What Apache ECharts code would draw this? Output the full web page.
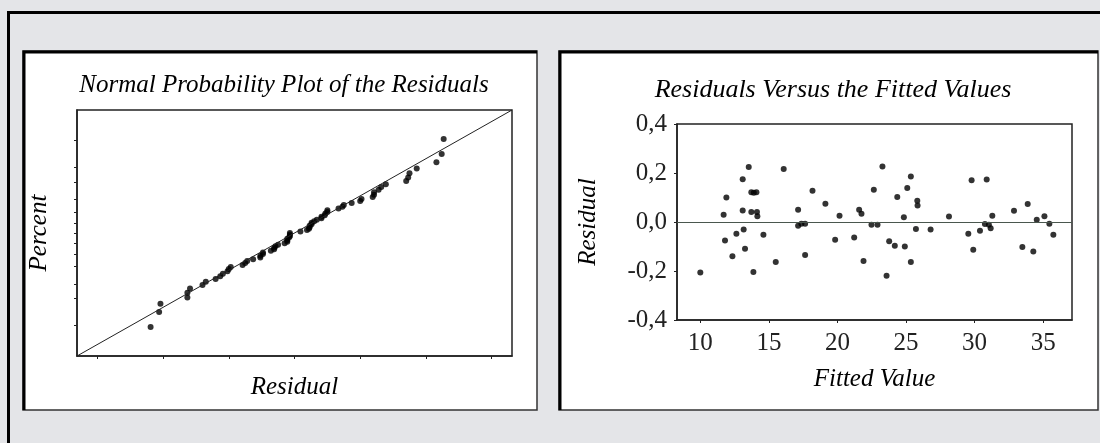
<!DOCTYPE html>
<html><head><meta charset="utf-8">
<script src="https://cdn.jsdelivr.net/npm/echarts@6/dist/echarts.min.js"></script>
<style>html,body{margin:0;padding:0;background:#e4e5e8}#c{width:1100px;height:443px}</style>
</head><body><div id="c"></div>
<script>
// ---- data ----
const fittedValues = [10.0, 11.7, 11.9, 11.8, 12.34, 12.63, 13.09, 13.09, 13.16, 13.26, 13.53, 13.72, 14.09, 13.9, 13.72, 14.13, 14.16, 13.87, 14.6, 15.5, 16.08, 17.13, 17.13, 17.37, 17.64, 17.64, 18.18, 19.12, 19.83, 20.15, 21.22, 21.58, 21.75, 21.9, 22.48, 22.65, 22.92, 23.28, 23.58, 23.77, 24.18, 24.36, 24.84, 24.91, 25.09, 25.35, 25.35, 25.72, 25.82, 25.84, 26.79, 28.13, 29.54, 29.78, 29.9, 30.39, 30.75, 30.88, 31.04, 31.17, 31.29, 32.87, 33.48, 33.87, 34.28, 34.53, 35.09, 35.45, 35.74];
const residuals = [-0.206, 0.03, 0.1, -0.075, -0.14, -0.048, 0.175, 0.047, -0.031, -0.109, 0.224, 0.121, 0.121, 0.119, 0.041, 0.041, 0.023, -0.204, -0.052, -0.163, 0.216, 0.05, -0.015, -0.007, -0.007, -0.135, 0.128, 0.075, -0.072, 0.026, -0.063, 0.05, 0.034, -0.159, -0.011, 0.132, -0.011, 0.227, -0.219, -0.079, -0.097, 0.102, 0.019, -0.1, 0.139, 0.186, -0.163, -0.029, 0.087, 0.067, -0.031, 0.022, -0.048, 0.17, -0.113, -0.036, -0.008, 0.173, -0.011, -0.025, 0.026, 0.046, -0.102, 0.073, -0.12, 0.009, 0.023, -0.007, -0.052];

const percentTicks = [1, 5, 10, 20, 30, 40, 50, 60, 70, 80, 90, 95, 99];
const percentTickZ = [-2.326, -1.645, -1.282, -0.842, -0.524, -0.253, 0, 0.253, 0.524, 0.842, 1.282, 1.645, 2.326];
const percentRangeZ = [-3.09, 3.09];           // 0.1 % .. 99.9 %
const residualRange = [-0.331, 0.331];          // x range of the probability plot
const residualTicks = [-0.3, -0.2, -0.1, 0, 0.1, 0.2, 0.3];
const fittedRange = [8.3, 37.1];
const fittedTicks = [10, 15, 20, 25, 30, 35];
const residualAxis = {min: -0.4, max: 0.4, interval: 0.2};

const titles = ['Normal Probability Plot of the Residuals', 'Residuals Versus the Fitted Values'];
const axisNames = {probX: 'Residual', probY: 'Percent', fitX: 'Fitted Value', fitY: 'Residual'};

// inverse standard normal (Acklam) for normal scores of the ranked residuals
function invNorm(p){
  const a=[-3.969683028665376e+01,2.209460984245205e+02,-2.759285104469687e+02,1.383577518672690e+02,-3.066479806614716e+01,2.506628277459239e+00];
  const b=[-5.447609879822406e+01,1.615858368580409e+02,-1.556989798598866e+02,6.680131188771972e+01,-1.328068155288572e+01];
  const c=[-7.784894002430293e-03,-3.223964580411365e-01,-2.400758277161838e+00,-2.549732539343734e+00,4.374664141464968e+00,2.938163982698783e+00];
  const d=[7.784695709041462e-03,3.224671290700398e-01,2.445134137142996e+00,3.754408661907416e+00];
  const pl=0.02425, ph=1-pl; let q,r;
  if(p<pl){q=Math.sqrt(-2*Math.log(p));return (((((c[0]*q+c[1])*q+c[2])*q+c[3])*q+c[4])*q+c[5])/((((d[0]*q+d[1])*q+d[2])*q+d[3])*q+1);}
  if(p<=ph){q=p-0.5;r=q*q;return (((((a[0]*r+a[1])*r+a[2])*r+a[3])*r+a[4])*r+a[5])*q/(((((b[0]*r+b[1])*r+b[2])*r+b[3])*r+b[4])*r+1);}
  q=Math.sqrt(-2*Math.log(1-p));return -(((((c[0]*q+c[1])*q+c[2])*q+c[3])*q+c[4])*q+c[5])/((((d[0]*q+d[1])*q+d[2])*q+d[3])*q+1);
}
const sorted = residuals.slice().sort((u,v)=>u-v);
const n = sorted.length;
const probPoints = sorted.map((r,i)=>[r, invNorm((i+1-0.375)/(n+0.25))]);
const scatterPoints = fittedValues.map((f,i)=>[f, residuals[i]]);

const serif = 'Liberation Serif';
const titleStyle = {fontFamily: serif, fontStyle: 'italic', fontWeight: 'normal', fontSize: 25, color: '#000'};
const nameStyle = {fontFamily: serif, fontStyle: 'italic', fontSize: 25, color: '#000'};
const labelStyle = {fontFamily: serif, fontSize: 25, color: '#222'};
const lineCol = '#222';

const chart = echarts.init(document.getElementById('c'), null, {renderer: 'canvas'});
chart.setOption({
  backgroundColor: '#e4e5e8',
  animation: false,
  graphic: [
    {type: 'rect', z: -10, shape: {x: 8.5, y: 12.5, width: 1200, height: 600}, style: {fill: 'none', stroke: '#000', lineWidth: 3}},
    {type: 'rect', z: -10, shape: {x: 23, y: 51, width: 514, height: 359}, style: {fill: '#fff', stroke: '#333', lineWidth: 1.5}},
    {type: 'polyline', z: -9, shape: {points: [[24, 410], [24, 52], [537, 52]]}, style: {stroke: '#000', lineWidth: 3, fill: null}},
    {type: 'rect', z: -10, shape: {x: 559, y: 51, width: 539, height: 359}, style: {fill: '#fff', stroke: '#333', lineWidth: 1.5}},
    {type: 'polyline', z: -9, shape: {points: [[560, 410], [560, 52], [1098, 52]]}, style: {stroke: '#000', lineWidth: 3, fill: null}}
  ],
  title: [
    {text: titles[0], left: 279, top: 68, textAlign: 'center', textStyle: titleStyle},
    {text: titles[1], left: 828, top: 72, textAlign: 'center', textStyle: Object.assign({}, titleStyle, {fontSize: 26})}
  ],
  grid: [
    {left: 77, top: 110, width: 435, height: 246, show: true, borderColor: lineCol, borderWidth: 1.5, backgroundColor: 'transparent'},
    {left: 677, top: 124, width: 395, height: 196, show: true, borderColor: lineCol, borderWidth: 1.5, backgroundColor: 'transparent'}
  ],
  xAxis: [
    {type: 'value', gridIndex: 0, min: residualRange[0], max: residualRange[1],
     name: axisNames.probX, nameLocation: 'middle', nameGap: 19, nameTextStyle: nameStyle,
     axisLine: {show: true, onZero: false, lineStyle: {color: lineCol, width: 1.5}},
     axisTick: {show: true, length: 3, customValues: residualTicks, lineStyle: {color: lineCol}},
     axisLabel: {show: false}, splitLine: {show: false}},
    {type: 'value', gridIndex: 1, min: fittedRange[0], max: fittedRange[1],
     name: axisNames.fitX, nameLocation: 'middle', nameGap: 47, nameTextStyle: nameStyle,
     axisLine: {show: true, onZero: false, lineStyle: {color: lineCol, width: 1.5}},
     axisTick: {show: true, length: 3, customValues: fittedTicks, lineStyle: {color: lineCol}},
     axisLabel: {show: true, customValues: fittedTicks, margin: 11, ...labelStyle}, splitLine: {show: false}}
  ],
  yAxis: [
    {type: 'value', gridIndex: 0, min: percentRangeZ[0], max: percentRangeZ[1],
     name: axisNames.probY, nameLocation: 'middle', nameGap: 25, nameRotate: 90, nameTextStyle: nameStyle,
     axisLine: {show: true, onZero: false, lineStyle: {color: lineCol, width: 1.5}},
     axisTick: {show: true, length: 3, customValues: percentTickZ, lineStyle: {color: lineCol}},
     axisLabel: {show: false}, splitLine: {show: false}},
    {type: 'value', gridIndex: 1, min: residualAxis.min, max: residualAxis.max, interval: residualAxis.interval,
     name: axisNames.fitY, nameLocation: 'middle', nameGap: 76, nameRotate: 90, nameTextStyle: nameStyle,
     axisLine: {show: true, onZero: false, lineStyle: {color: lineCol, width: 1.5}},
     axisTick: {show: true, length: 3, lineStyle: {color: lineCol}},
     axisLabel: {show: true, margin: 10, formatter: v => v.toFixed(1).replace('.', ','), ...labelStyle}, splitLine: {show: false}}
  ],
  series: [
    {type: 'line', xAxisIndex: 0, yAxisIndex: 0, data: [[residualRange[0], percentRangeZ[0]], [residualRange[1], percentRangeZ[1]]],
     showSymbol: false, lineStyle: {color: '#222', width: 1}, silent: true},
    {type: 'scatter', xAxisIndex: 0, yAxisIndex: 0, data: probPoints, symbol: 'circle', symbolSize: 6, itemStyle: {color: '#000'}},
    {type: 'scatter', xAxisIndex: 1, yAxisIndex: 1, data: scatterPoints, symbol: 'circle', symbolSize: 6, itemStyle: {color: '#000'},
     markLine: {silent: true, symbol: 'none', label: {show: false}, lineStyle: {color: '#4a574e', width: 1, type: 'solid'}, data: [{yAxis: 0}]}}
  ]
});
</script>
</body></html>
